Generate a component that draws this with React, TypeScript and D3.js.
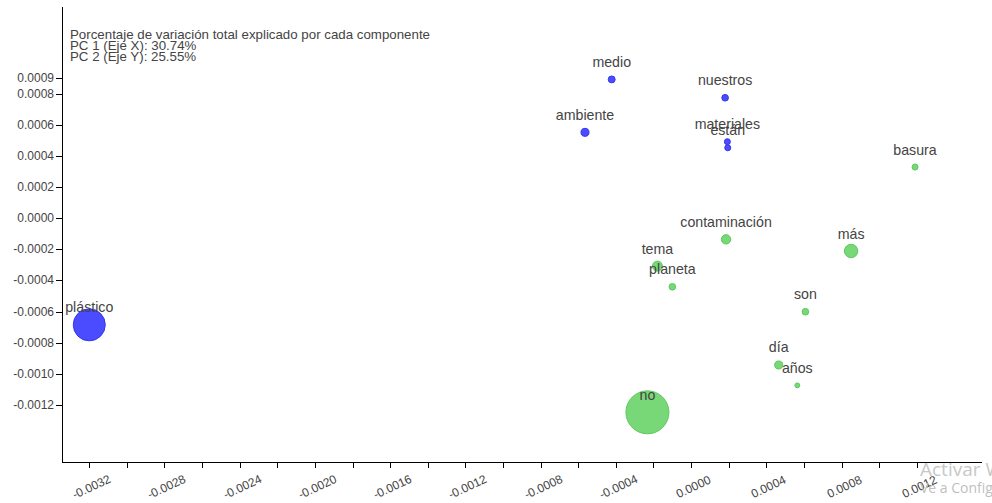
import React from "react";
import * as d3 from "d3";

const words = ["medio", "nuestros", "ambiente", "materiales", "están", "basura", "contaminación", "más", "tema", "planeta", "son", "día", "años", "plástico", "no"];
const pc1 = [-0.000422, 0.000181, -0.000564, 0.000193, 0.000195, 0.001191, 0.000186, 0.000851, -0.000179, -0.0000994, 0.000608, 0.000466, 0.000565, -0.0032, -0.000232];
const pc2 = [0.000891, 0.000773, 0.000551, 0.000491, 0.000452, 0.000328, -0.000136, -0.000211, -0.000308, -0.000441, -0.000601, -0.000943, -0.001074, -0.000685, -0.001247];
const weight = [12, 11, 16, 9, 9, 9, 22, 45, 25, 11, 11, 16, 6, 256, 462];
const cluster = [0, 0, 0, 0, 0, 1, 1, 1, 1, 1, 1, 1, 1, 0, 1];

const xTicks = d3.range(-16, 7).map((i) => i * 0.0002);
const yTicks = [0.0009, 0.0008, 0.0006, 0.0004, 0.0002, 0, -0.0002, -0.0004, -0.0006, -0.0008, -0.001, -0.0012];
const titleLines = [
  "Porcentaje de variación total explicado por cada componente",
  "PC 1 (Eje X): 30.74%",
  "PC 2 (Eje Y): 25.55%",
];

const W = 992;
const H = 503;
const left = 62;
const right = 982;
const top = 7;
const bottom = 462;

const fills = ["#4b4bff", "#78d878"];
const strokes = ["#3535ee", "#5cc95c"];

function fmt(v: number) {
  const s = Math.abs(v) < 1e-12 ? "0.0000" : v.toFixed(4);
  return s;
}

export default function App() {
  const x = d3.scaleLinear().domain([-0.003345, 0.001547]).range([left, right]);
  const y = d3.scaleLinear().domain([-0.001566, 0.001356]).range([bottom, top]);
  const r = d3.scaleSqrt().domain([0, 462]).range([0, 21.5]);
  const font = "Arial, 'Liberation Sans', sans-serif";

  return (
    <svg width={W} height={H} style={{ position: "absolute", left: 0, top: 0, background: "#fff" }} fontFamily={font}>
      <rect x={0} y={0} width={W} height={H} fill="#fff" />
      {/* axes */}
      <line x1={left + 0.5} x2={left + 0.5} y1={top} y2={bottom} stroke="#000" strokeWidth={1} />
      <line x1={left} x2={right} y1={bottom + 0.5} y2={bottom + 0.5} stroke="#000" strokeWidth={1} />
      {yTicks.map((t, i) => (
        <g key={"y" + i} transform={`translate(0,${Math.round(y(t)) + 0.5})`}>
          <line x1={left - 6} x2={left} stroke="#000" />
          <text x={left - 8} dy="0.32em" textAnchor="end" fontSize={12} fill="#444">
            {fmt(t)}
          </text>
        </g>
      ))}
      {xTicks.map((t, i) => {
        const px = Math.round(x(t)) + 0.5;
        const labeled = Math.round(t / 0.0002) % 2 === 0;
        return (
          <g key={"x" + i}>
            <line x1={px} x2={px} y1={bottom} y2={bottom + 6} stroke="#000" />
            {labeled && (
              <text
                transform={`translate(${px + 2},${bottom + 25}) rotate(-25)`}
                textAnchor="middle"
                dy="0.32em"
                fontSize={12}
                fill="#444"
              >
                {fmt(t)}
              </text>
            )}
          </g>
        );
      })}
      {/* title */}
      {titleLines.map((l, i) => (
        <text key={"t" + i} x={70} y={39 + i * 10.8} fontSize={13.3} fill="#444">
          {l}
        </text>
      ))}
      {/* points */}
      {words.map((w, i) => (
        <circle
          key={"c" + i}
          cx={x(pc1[i])}
          cy={y(pc2[i])}
          r={r(weight[i])}
          fill={fills[cluster[i]]}
          stroke={strokes[cluster[i]]}
          strokeWidth={1}
        />
      ))}
      {words.map((w, i) => (
        <text
          key={"l" + i}
          x={x(pc1[i])}
          y={y(pc2[i]) - 12.5}
          textAnchor="middle"
          fontSize={14.2}
          fill="#444"
        >
          {w}
        </text>
      ))}
      {/* watermark */}
      <text x={920} y={476} fontSize={19} fill="#c8c8c8" fontFamily="'Open Sans', 'Noto Sans', sans-serif">
        Activar Windows
      </text>
      <text x={920} y={493} fontSize={14} fill="#c0c0c0" fontFamily="'Open Sans', 'Noto Sans', sans-serif">
        Ve a Configuración para activar Windows.
      </text>
    </svg>
  );
}
